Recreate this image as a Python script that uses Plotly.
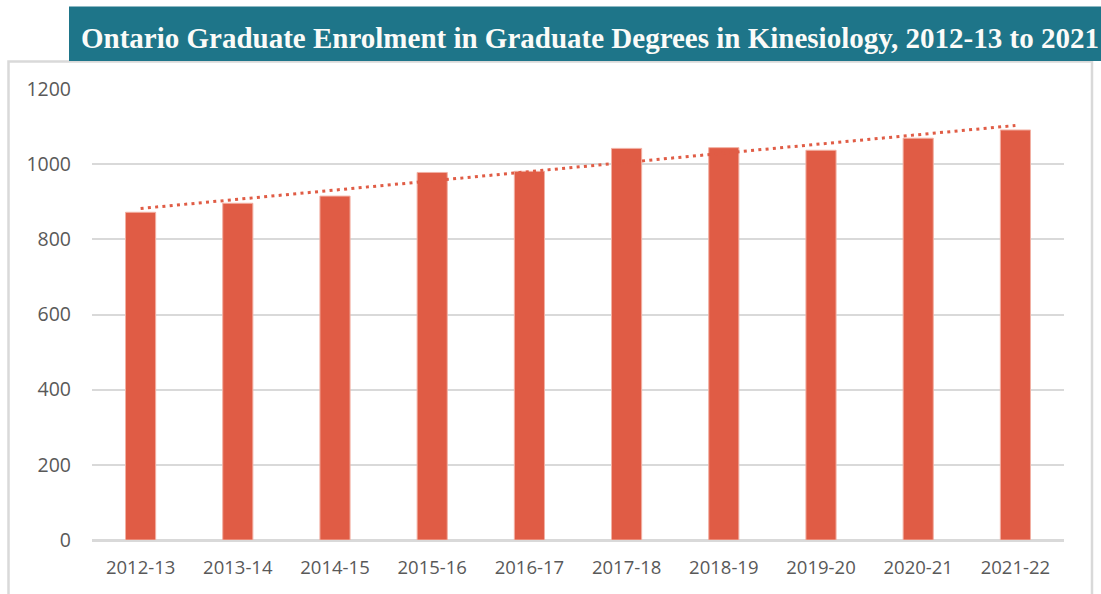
import numpy as np
import plotly.graph_objects as go

# ---- data ----
years = ["2012-13", "2013-14", "2014-15", "2015-16", "2016-17",
         "2017-18", "2018-19", "2019-20", "2020-21", "2021-22"]
enrolment = [872, 896, 915, 978, 981, 1042, 1044, 1037, 1069, 1091]
y_ticks = [0, 200, 400, 600, 800, 1000, 1200]
title_text = "Ontario Graduate Enrolment in Graduate Degrees in Kinesiology, 2012-13 to 2021"

# linear trendline (least squares fit, as in spreadsheet trendline)
idx = np.arange(len(years))
slope, intercept = np.polyfit(idx, enrolment, 1)
trend = slope * idx + intercept

W, H = 1101, 594
L, R, T, B = 92, 37, 89, 54
pw, ph = W - L - R, H - T - B

def px_x(p):
    return (p - L) / pw

def px_y(p):
    return (H - B - p) / ph

BAR = "#e05c45"
GRID = "#d9d9d9"

fig = go.Figure()
fig.add_trace(go.Bar(
    x=years, y=enrolment,
    marker=dict(color=BAR, line=dict(color="#f2b0a3", width=1)),
    width=0.31, showlegend=False, hoverinfo="x+y",
))
fig.add_trace(go.Scatter(
    x=years, y=trend, mode="lines",
    line=dict(color=BAR, width=3, dash="3px,4.3px"),
    showlegend=False, hoverinfo="skip",
))

fig.update_layout(
    width=W, height=H,
    margin=dict(l=L, r=R, t=T, b=B, pad=0),
    paper_bgcolor="white", plot_bgcolor="white",
    font=dict(family="Open Sans", color="#595959", size=18),
    bargap=0.69,
    xaxis=dict(
        showgrid=False, zeroline=False, showline=False,
        ticks="", tickfont=dict(size=18.5, color="#595959"),
        ticklabelstandoff=14,
    ),
    yaxis=dict(
        range=[0, 1200], tickvals=y_ticks, showgrid=True,
        gridcolor=GRID, gridwidth=2, zeroline=True,
        zerolinecolor=GRID, zerolinewidth=2.5, showline=False,
        ticks="", tickfont=dict(size=19.5, color="#595959"),
        ticklabelstandoff=20,
    ),
    shapes=[
        # chart border
        dict(type="rect", xref="paper", yref="paper",
             x0=px_x(8.5), x1=px_x(1092), y0=px_y(610), y1=px_y(61.5),
             line=dict(color=GRID, width=2.5), fillcolor="rgba(0,0,0,0)",
             layer="below"),
        # title banner
        dict(type="rect", xref="paper", yref="paper",
             x0=px_x(69), x1=px_x(1120), y0=px_y(61), y1=px_y(6.5),
             line=dict(width=0), fillcolor="#1e7589", layer="above"),
    ],
    annotations=[
        dict(text="<b>" + title_text + "</b>", xref="paper", yref="paper",
             x=px_x(79), y=px_y(38), xanchor="left", yanchor="middle",
             showarrow=False,
             font=dict(family="Liberation Serif", size=29, color="#fbfbf8")),
    ],
)

fig.write_html("out.html",
               config={"displayModeBar": False},
               post_script="document.body.style.margin='0';document.body.style.overflow='hidden';")
